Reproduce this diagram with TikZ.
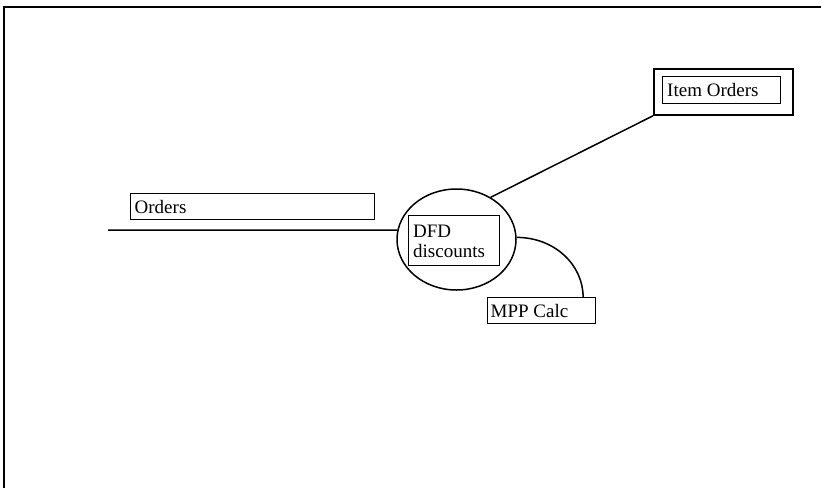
\documentclass[tikz,border=0pt]{standalone}
\usepackage{fontspec}
\setmainfont{Liberation Serif}
\usetikzlibrary{shapes.geometric,calc}
\begin{document}
\begin{tikzpicture}[x=1pt,y=-1pt,
  ln/.style={line width=1.5pt},
  box/.style={draw,line width=1.2pt,inner sep=0pt,anchor=north west},
  lbl/.style={anchor=base west,inner sep=0pt,font=\fontsize{19}{20}\selectfont},
]
\useasboundingbox (0,0) rectangle (821,488);
% frame
\draw[line width=1.8pt] (4,488) -- (4,7) -- (821,7);
% process
\node[draw,ln,ellipse,minimum width=119pt,minimum height=101pt,inner sep=0pt] (proc) at (456.5,239.5) {};
\node[box,minimum width=91pt,minimum height=50pt] (dfd) at (408,215) {};
\node[lbl] (dfdt1) at ($(dfd.north west)+(5,22)$) {DFD};
\node[lbl] (dfdt2) at ($(dfd.north west)+(5,42)$) {discounts};
% Orders
\node[box,minimum width=244pt,minimum height=26pt] (orders) at (130,193) {};
\node[lbl] (orderst) at ($(orders.north west)+(4.5,20)$) {Orders};
% Item Orders
\node[box,minimum width=139pt,minimum height=46pt,line width=1.8pt] (itemout) at (653,68) {};
\node[box,minimum width=118pt,minimum height=27pt] (itemin) at (662,76) {};
\node[lbl] (itemt) at ($(itemin.north west)+(5,20)$) {Item Orders};
% MPP Calc
\node[box,minimum width=108pt,minimum height=26pt] (mpp) at (487,297) {};
\node[lbl] (mppt) at ($(mpp.north west)+(3.5,20)$) {MPP Calc};
% connectors
\coordinate (in) at (108,230);
\draw[ln] (in) -- (proc.171);
\draw[ln] (proc.51) -- (itemout.south west);
\coordinate (mpptop) at ($(mpp.north west)!0.88!(mpp.north east)$);
\draw[ln] (proc.2) .. controls +(38,0) and +(0,-32) .. (mpptop);
\end{tikzpicture}
\end{document}
